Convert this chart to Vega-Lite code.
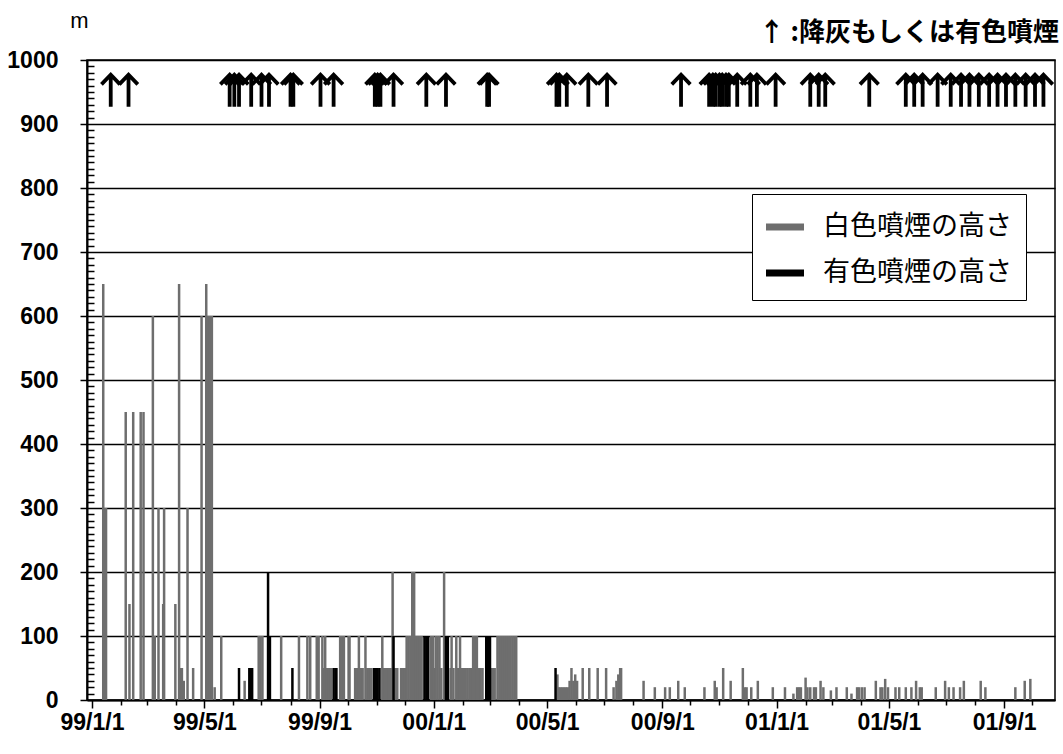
{
  "$schema": "https://vega.github.io/schema/vega-lite/v6.json",
  "width": 968,
  "height": 640,
  "autosize": "none",
  "padding": {"left": 87, "top": 60, "right": 8, "bottom": 54},
  "background": "white",
  "title": {"text": "↑ :降灰もしくは有色噴煙", "anchor": "end", "frame": "group", "fontSize": 26, "font": "Noto Sans CJK JP", "fontWeight": "bold", "offset": -37, "dx": 4, "color": "black"},
  "datasets": {
    "smoke": [
      {"d":"1999-01-13","t":"w","h":650},{"d":"1999-01-14","t":"w","h":300},{"d":"1999-01-16","t":"w","h":300},
      {"d":"1999-02-06","t":"w","h":450},{"d":"1999-02-10","t":"w","h":150},{"d":"1999-02-14","t":"w","h":450},
      {"d":"1999-02-22","t":"w","h":450},{"d":"1999-02-25","t":"w","h":450},{"d":"1999-03-07","t":"w","h":600},
      {"d":"1999-03-09","t":"w","h":100},{"d":"1999-03-13","t":"w","h":300},{"d":"1999-03-18","t":"w","h":150},
      {"d":"1999-03-19","t":"w","h":300},{"d":"1999-03-31","t":"w","h":150},{"d":"1999-04-04","t":"w","h":650},
      {"d":"1999-04-05","t":"w","h":50},{"d":"1999-04-07","t":"w","h":50},{"d":"1999-04-09","t":"w","h":30},
      {"d":"1999-04-13","t":"w","h":300},{"d":"1999-04-19","t":"w","h":50},{"d":"1999-04-28","t":"w","h":600},
      {"d":"1999-05-03","t":"w","h":650},{"d":"1999-05-05","t":"w","h":600},{"d":"1999-05-07","t":"w","h":600},
      {"d":"1999-05-09","t":"w","h":600},{"d":"1999-05-12","t":"w","h":20},{"d":"1999-05-19","t":"w","h":100},
      {"d":"1999-06-13","t":"w","h":30},{"d":"1999-06-28","t":"w","h":100},{"d":"1999-06-30","t":"w","h":100},
      {"d":"1999-07-02","t":"w","h":100},{"d":"1999-07-22","t":"w","h":100},{"d":"1999-08-10","t":"w","h":100},
      {"d":"1999-08-19","t":"w","h":100},{"d":"1999-08-22","t":"w","h":100},{"d":"1999-08-29","t":"w","h":100},
      {"d":"1999-08-31","t":"w","h":100},{"d":"1999-09-04","t":"w","h":100},{"d":"1999-09-06","t":"w","h":50},
      {"d":"1999-09-07","t":"w","h":100},{"d":"1999-09-09","t":"w","h":50},{"d":"1999-09-11","t":"w","h":50},
      {"d":"1999-09-13","t":"w","h":50},{"d":"1999-09-23","t":"w","h":100},{"d":"1999-09-25","t":"w","h":100},
      {"d":"1999-09-27","t":"w","h":100},{"d":"1999-10-02","t":"w","h":100},{"d":"1999-10-03","t":"w","h":100},
      {"d":"1999-10-09","t":"w","h":50},{"d":"1999-10-11","t":"w","h":50},{"d":"1999-10-13","t":"w","h":100},
      {"d":"1999-10-15","t":"w","h":50},{"d":"1999-10-17","t":"w","h":50},{"d":"1999-10-20","t":"w","h":100},
      {"d":"1999-10-22","t":"w","h":50},{"d":"1999-10-24","t":"w","h":50},{"d":"1999-10-26","t":"w","h":50},
      {"d":"1999-11-07","t":"w","h":100},{"d":"1999-11-08","t":"w","h":50},{"d":"1999-11-10","t":"w","h":50},
      {"d":"1999-11-12","t":"w","h":50},{"d":"1999-11-14","t":"w","h":50},{"d":"1999-11-16","t":"w","h":50},
      {"d":"1999-11-18","t":"w","h":200},{"d":"1999-11-21","t":"w","h":50},{"d":"1999-11-23","t":"w","h":50},
      {"d":"1999-11-27","t":"w","h":50},{"d":"1999-11-29","t":"w","h":50},{"d":"1999-12-01","t":"w","h":50},
      {"d":"1999-12-03","t":"w","h":100},{"d":"1999-12-05","t":"w","h":100},{"d":"1999-12-07","t":"w","h":100},
      {"d":"1999-12-09","t":"w","h":200},{"d":"1999-12-11","t":"w","h":200},{"d":"1999-12-13","t":"w","h":100},
      {"d":"1999-12-15","t":"w","h":100},{"d":"1999-12-17","t":"w","h":100},{"d":"1999-12-19","t":"w","h":100},
      {"d":"1999-12-29","t":"w","h":100},{"d":"1999-12-31","t":"w","h":100},{"d":"2000-01-01","t":"w","h":50},
      {"d":"2000-01-03","t":"w","h":100},{"d":"2000-01-05","t":"w","h":100},{"d":"2000-01-07","t":"w","h":100},
      {"d":"2000-01-09","t":"w","h":50},{"d":"2000-01-12","t":"w","h":200},{"d":"2000-01-19","t":"w","h":50},
      {"d":"2000-01-20","t":"w","h":100},{"d":"2000-01-22","t":"w","h":50},{"d":"2000-01-25","t":"w","h":100},
      {"d":"2000-01-27","t":"w","h":50},{"d":"2000-01-29","t":"w","h":100},{"d":"2000-01-31","t":"w","h":50},
      {"d":"2000-02-02","t":"w","h":50},{"d":"2000-02-04","t":"w","h":50},{"d":"2000-02-06","t":"w","h":50},
      {"d":"2000-02-08","t":"w","h":50},{"d":"2000-02-10","t":"w","h":50},{"d":"2000-02-12","t":"w","h":100},
      {"d":"2000-02-14","t":"w","h":100},{"d":"2000-02-16","t":"w","h":100},{"d":"2000-02-18","t":"w","h":50},
      {"d":"2000-02-20","t":"w","h":50},{"d":"2000-02-22","t":"w","h":50},{"d":"2000-03-02","t":"w","h":50},
      {"d":"2000-03-04","t":"w","h":50},{"d":"2000-03-06","t":"w","h":50},{"d":"2000-03-09","t":"w","h":100},
      {"d":"2000-03-11","t":"w","h":100},{"d":"2000-03-13","t":"w","h":100},{"d":"2000-03-15","t":"w","h":100},
      {"d":"2000-03-17","t":"w","h":100},{"d":"2000-03-19","t":"w","h":100},{"d":"2000-03-21","t":"w","h":100},
      {"d":"2000-03-23","t":"w","h":100},{"d":"2000-03-25","t":"w","h":100},{"d":"2000-03-27","t":"w","h":100},
      {"d":"2000-03-29","t":"w","h":100},
      {"d":"2000-05-12","t":"w","h":40},{"d":"2000-05-13","t":"w","h":20},{"d":"2000-05-15","t":"w","h":20},
      {"d":"2000-05-17","t":"w","h":20},{"d":"2000-05-19","t":"w","h":20},{"d":"2000-05-21","t":"w","h":20},
      {"d":"2000-05-23","t":"w","h":20},{"d":"2000-05-25","t":"w","h":30},{"d":"2000-05-27","t":"w","h":50},
      {"d":"2000-05-29","t":"w","h":30},{"d":"2000-05-31","t":"w","h":40},{"d":"2000-06-02","t":"w","h":30},
      {"d":"2000-06-08","t":"w","h":50},{"d":"2000-06-15","t":"w","h":50},{"d":"2000-06-24","t":"w","h":50},
      {"d":"2000-07-03","t":"w","h":50},{"d":"2000-07-11","t":"w","h":20},{"d":"2000-07-14","t":"w","h":30},
      {"d":"2000-07-16","t":"w","h":40},{"d":"2000-07-18","t":"w","h":50},{"d":"2000-07-19","t":"w","h":50},
      {"d":"2000-08-12","t":"w","h":30},{"d":"2000-08-24","t":"w","h":20},{"d":"2000-09-04","t":"w","h":20},
      {"d":"2000-09-09","t":"w","h":20},{"d":"2000-09-18","t":"w","h":30},{"d":"2000-09-25","t":"w","h":20},
      {"d":"2000-10-16","t":"w","h":20},{"d":"2000-10-27","t":"w","h":30},{"d":"2000-10-29","t":"w","h":20},
      {"d":"2000-11-05","t":"w","h":50},{"d":"2000-11-13","t":"w","h":30},{"d":"2000-11-26","t":"w","h":50},
      {"d":"2000-11-28","t":"w","h":20},{"d":"2000-11-30","t":"w","h":20},{"d":"2000-12-05","t":"w","h":20},
      {"d":"2000-12-12","t":"w","h":30},{"d":"2000-12-28","t":"w","h":20},
      {"d":"2001-01-10","t":"w","h":20},{"d":"2001-01-19","t":"w","h":10},{"d":"2001-01-23","t":"w","h":20},
      {"d":"2001-01-25","t":"w","h":20},{"d":"2001-01-27","t":"w","h":20},{"d":"2001-02-01","t":"w","h":35},
      {"d":"2001-02-03","t":"w","h":20},{"d":"2001-02-06","t":"w","h":20},{"d":"2001-02-10","t":"w","h":20},
      {"d":"2001-02-12","t":"w","h":20},{"d":"2001-02-17","t":"w","h":30},{"d":"2001-02-20","t":"w","h":20},
      {"d":"2001-02-28","t":"w","h":15},{"d":"2001-03-06","t":"w","h":20},{"d":"2001-03-17","t":"w","h":20},
      {"d":"2001-03-22","t":"w","h":10},{"d":"2001-03-28","t":"w","h":20},{"d":"2001-03-30","t":"w","h":20},
      {"d":"2001-04-02","t":"w","h":20},{"d":"2001-04-05","t":"w","h":20},{"d":"2001-04-17","t":"w","h":30},
      {"d":"2001-04-22","t":"w","h":20},{"d":"2001-04-24","t":"w","h":20},{"d":"2001-04-27","t":"w","h":33},
      {"d":"2001-04-30","t":"w","h":20},{"d":"2001-05-08","t":"w","h":20},{"d":"2001-05-12","t":"w","h":20},
      {"d":"2001-05-19","t":"w","h":20},{"d":"2001-05-25","t":"w","h":20},{"d":"2001-05-30","t":"w","h":30},
      {"d":"2001-06-03","t":"w","h":20},{"d":"2001-06-05","t":"w","h":20},{"d":"2001-06-20","t":"w","h":20},
      {"d":"2001-06-30","t":"w","h":30},{"d":"2001-07-04","t":"w","h":20},{"d":"2001-07-09","t":"w","h":20},
      {"d":"2001-07-16","t":"w","h":20},{"d":"2001-07-20","t":"w","h":30},{"d":"2001-08-07","t":"w","h":30},
      {"d":"2001-08-12","t":"w","h":20},{"d":"2001-09-13","t":"w","h":20},{"d":"2001-09-23","t":"w","h":30},
      {"d":"2001-09-29","t":"w","h":33},
      {"d":"1999-06-07","t":"c","h":50},{"d":"1999-06-18","t":"c","h":50},{"d":"1999-06-20","t":"c","h":50},
      {"d":"1999-06-21","t":"c","h":50},{"d":"1999-07-08","t":"c","h":200},{"d":"1999-07-10","t":"c","h":100},
      {"d":"1999-08-03","t":"c","h":50},{"d":"1999-09-16","t":"c","h":50},{"d":"1999-09-18","t":"c","h":50},
      {"d":"1999-09-19","t":"c","h":50},{"d":"1999-10-29","t":"c","h":50},{"d":"1999-10-31","t":"c","h":50},
      {"d":"1999-11-02","t":"c","h":50},{"d":"1999-11-04","t":"c","h":50},{"d":"1999-11-19","t":"c","h":100},
      {"d":"1999-12-22","t":"c","h":100},{"d":"1999-12-24","t":"c","h":100},{"d":"1999-12-26","t":"c","h":100},
      {"d":"2000-01-14","t":"c","h":100},{"d":"2000-01-16","t":"c","h":100},{"d":"2000-02-26","t":"c","h":100},
      {"d":"2000-02-28","t":"c","h":100},{"d":"2000-03-01","t":"c","h":100},{"d":"2000-05-10","t":"c","h":50}
    ],
    "ash": [
      {"d":"1999-01-21"},{"d":"1999-02-09"},{"d":"1999-05-28"},{"d":"1999-06-02"},{"d":"1999-06-07"},
      {"d":"1999-06-20"},{"d":"1999-07-01"},{"d":"1999-07-09"},{"d":"1999-08-01"},{"d":"1999-08-04"},
      {"d":"1999-09-02"},{"d":"1999-09-16"},{"d":"1999-10-30"},{"d":"1999-11-02"},{"d":"1999-11-05"},
      {"d":"1999-11-19"},{"d":"1999-12-24"},{"d":"2000-01-14"},{"d":"2000-02-27"},{"d":"2000-02-29"},
      {"d":"2000-05-11"},{"d":"2000-05-14"},{"d":"2000-05-22"},{"d":"2000-06-14"},{"d":"2000-07-04"},
      {"d":"2000-09-21"},{"d":"2000-10-21"},{"d":"2000-10-25"},{"d":"2000-10-28"},{"d":"2000-11-01"},
      {"d":"2000-11-04"},{"d":"2000-11-08"},{"d":"2000-11-11"},{"d":"2000-11-20"},{"d":"2000-12-04"},
      {"d":"2000-12-11"},{"d":"2000-12-31"},{"d":"2001-02-06"},{"d":"2001-02-15"},{"d":"2001-02-22"},
      {"d":"2001-04-10"},{"d":"2001-05-19"},{"d":"2001-05-28"},{"d":"2001-06-06"},{"d":"2001-06-22"},
      {"d":"2001-07-06"},{"d":"2001-07-17"},{"d":"2001-07-26"},{"d":"2001-08-05"},{"d":"2001-08-16"},
      {"d":"2001-08-25"},{"d":"2001-09-03"},{"d":"2001-09-13"},{"d":"2001-09-24"},{"d":"2001-10-04"},
      {"d":"2001-10-13"}
    ]
  },
  "encoding": {
    "x": {
      "field": "d", "type": "temporal",
      "scale": {"type": "utc", "domain": ["1999-01-01", "2001-10-20"], "nice": false},
      "axis": {
        "title": null,
        "tickCount": {"interval": "month", "step": 1},
        "format": "%y/%-m/%-d",
        "labelExpr": "utcmonth(datum.value) % 4 === 0 ? utcFormat(datum.value, '%y/%-m/%-d') : ''",
        "tickSize": {"condition": {"test": "utcmonth(datum.value) % 4 === 0", "value": 8}, "value": 5},
        "labelFontSize": 23, "labelFont": "Liberation Sans, Arial, sans-serif", "labelFontWeight": "bold",
        "labelPadding": 3, "labelOverlap": false, "labelFlush": false, "grid": false
      }
    }
  },
  "layer": [
    {
      "data": {"name": "smoke"},
      "mark": {"type": "bar", "size": 2.5},
      "encoding": {
        "y": {
          "field": "h", "type": "quantitative", "stack": null,
          "scale": {"domain": [0, 1000], "nice": false},
          "axis": {
            "title": "m", "titleAngle": 0, "titleX": -8, "titleY": -28, "titleAlign": "center", "titleBaseline": "bottom",
            "titleFontSize": 22, "titleFont": "Liberation Sans, sans-serif", "titleFontWeight": "normal",
            "tickCount": 100, "format": "d",
            "labelExpr": "datum.value % 100 === 0 ? datum.label : ''",
            "tickSize": {"condition": {"test": "datum.value % 100 === 0", "value": 7}, "value": -7},
            "grid": true,
            "gridOpacity": {"condition": {"test": "datum.value % 100 === 0", "value": 1}, "value": 0},
            "gridColor": "black", "gridWidth": 1.3,
            "labelFontSize": 23, "labelFont": "Liberation Sans, Arial, sans-serif", "labelFontWeight": "bold",
            "labelPadding": 22, "labelOverlap": false, "labelFlush": false, "labelBaseline": "middle"
          }
        },
        "color": {
          "field": "t", "type": "nominal",
          "scale": {"domain": ["w", "c"], "range": ["#6e6e6e", "#000000"]},
          "legend": {
            "title": null, "orient": "none", "legendX": 665, "legendY": 134,
            "labelExpr": "datum.label === 'w' ? '白色噴煙の高さ' : '有色噴煙の高さ'",
            "labelFont": "Noto Sans CJK JP", "labelFontSize": 27, "labelColor": "black", "labelLimit": 400,
            "symbolType": "M-1,-0.18L1,-0.18L1,0.18L-1,0.18Z", "symbolSize": 1444, "symbolStrokeWidth": 0,
            "strokeColor": "black", "fillColor": "white", "padding": 14, "rowPadding": 14, "labelOffset": 19
          }
        }
      }
    },
    {
      "data": {"name": "ash"},
      "mark": {"type": "point", "shape": "M0,1L0,-0.92M-0.58,-0.4L0,-1L0.58,-0.4", "filled": false, "stroke": "black", "strokeWidth": 3.8, "size": 1024, "opacity": 1, "strokeJoin": "miter"},
      "encoding": {
        "y": {"datum": 952, "type": "quantitative"}
      }
    }
  ],
  "config": {
    "view": {"stroke": "black", "strokeWidth": 1.5},
    "axis": {"domainColor": "black", "domainWidth": 2, "tickColor": "black", "tickWidth": 1.5, "labelColor": "black", "titleColor": "black"}
  }
}
